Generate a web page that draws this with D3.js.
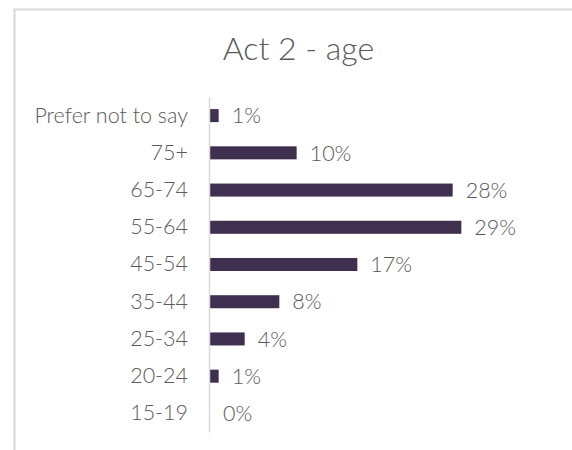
<!DOCTYPE html>
<html>
<head>
<meta charset="utf-8">
<script src="https://cdn.jsdelivr.net/npm/d3@7"></script>
<style>
  html, body { margin: 0; padding: 0; background: #ffffff; }
  svg { display: block; font-family: Lato, "Open Sans", sans-serif; font-weight: 300; }
</style>
</head>
<body>
<div id="chart"></div>
<script>
// Age bands, top to bottom as they appear on the chart
const categories = ["Prefer not to say", "75+", "65-74", "55-64", "45-54", "35-44", "25-34", "20-24", "15-19"];
// Share of respondents in each band (%)
const values = [1, 10, 28, 29, 17, 8, 4, 1, 0];
const chartTitle = "Act 2 - age";

const width = 572, height = 450;
const barColor = "#3f3050";
const textColor = "#595959";

const svg = d3.select("#chart").append("svg")
  .attr("width", width)
  .attr("height", height);

// chart frame (runs past the right and bottom edges)
svg.append("rect")
  .attr("x", 14.5).attr("y", 9.5)
  .attr("width", 600).attr("height", 500)
  .attr("fill", "#ffffff")
  .attr("stroke", "#d9d9d9")
  .attr("stroke-width", 2);

svg.append("text")
  .attr("x", 298.5).attr("y", 60)
  .attr("text-anchor", "middle")
  .attr("fill", textColor)
  .attr("font-size", 32)
  .attr("font-weight", 300)
  .text(chartTitle);

const x = d3.scaleLinear().domain([0, 30]).range([210, 470]);
const y = d3.scaleBand().domain(categories).range([97, 432]).paddingInner(0.65).paddingOuter(0.325);

const data = categories.map((c, i) => ({ cat: c, val: values[i] }));

// bars
svg.append("g").selectAll("rect")
  .data(data)
  .join("rect")
  .attr("x", x(0))
  .attr("y", d => y(d.cat))
  .attr("width", d => x(d.val) - x(0))
  .attr("height", y.bandwidth())
  .attr("fill", barColor);

// category axis
const yAxis = d3.axisLeft(y).tickSize(0).tickPadding(21);
const ag = svg.append("g").attr("transform", `translate(${x(0) - 1},0)`).call(yAxis);
ag.select(".domain").attr("stroke", "#d9d9d9").attr("stroke-width", 1.5);
ag.selectAll("text")
  .attr("fill", textColor)
  .attr("font-size", 21.5)
  .attr("font-weight", 300)
  .attr("font-family", "Lato, 'Open Sans', sans-serif");

// value labels
svg.append("g").selectAll("text")
  .data(data)
  .join("text")
  .attr("x", d => x(d.val) + 13)
  .attr("y", d => y(d.cat) + y.bandwidth() / 2)
  .attr("dy", "0.36em")
  .attr("fill", textColor)
  .attr("font-size", 21.5)
  .attr("font-weight", 300)
  .text(d => d.val + "%");
</script>
</body>
</html>
